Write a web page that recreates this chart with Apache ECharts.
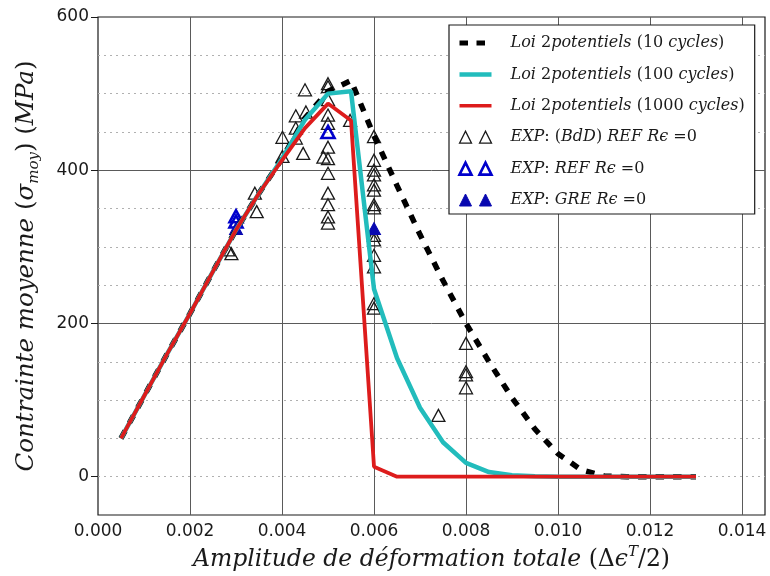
<!DOCTYPE html>
<html><head><meta charset="utf-8">
<script src="https://cdn.jsdelivr.net/npm/echarts@6/dist/echarts.min.js"></script>
<style>html,body{margin:0;padding:0;background:#fff}#c{width:770px;height:576px}</style>
</head><body><div id="c"></div>
<script>
// ---- data ----
const strain = [0.0005,0.001,0.0015,0.002,0.0025,0.003,0.0035,0.004,0.0045,0.005,0.0055,0.006,0.0065,0.007,0.0075,0.008,0.0085,0.009,0.0095,0.010,0.0105,0.011,0.0115,0.012,0.0125,0.013];
const sigma10   = [50,105,160,213,268,322,370,415,468,503,517,445,380,316,256,200,150,103,62,30,9,1,0,0,0,0];
const sigma100  = [50,105,160,213,268,322,370,415,466,500,503,245,155,90,45,18,6,2,0.5,0,0,0,0,0,0,0];
const sigma1000 = [50,105,160,213,268,322,370,413,455,487,465,13,0,0,0,0,0,0,0,0,0,0,0,0,0,0];
const expBdD = [[0.00283,296],[0.0029,291],[0.00341,370],[0.00345,346],[0.00401,443],[0.00401,418],
  [0.0043,471],[0.0043,455],[0.0043,442],[0.00446,422],[0.00452,476],[0.0045,505],[0.0049,417],
  [0.005,513],[0.005,509],[0.005,492],[0.005,472],[0.005,461],[0.005,430],[0.005,415],[0.005,396],
  [0.005,370],[0.005,355],[0.005,339],[0.005,331],[0.00548,465],
  [0.006,444],[0.006,413],[0.006,400],[0.006,394],[0.006,381],[0.006,374],[0.006,355],[0.006,351],
  [0.006,315],[0.006,309],[0.006,289],[0.006,274],[0.006,226],[0.006,220],
  [0.0074,80],[0.008,174],[0.008,137],[0.008,133],[0.008,116]];
const expREF = [[0.003,340],[0.003,333],[0.005,450]];
const expGRE = [[0.003,324],[0.006,324]];
const yTicks = [0,200,400,600];
const names = ['Loi 2potentiels (10 cycles)','Loi 2potentiels (100 cycles)','Loi 2potentiels (1000 cycles)',
  'EXP: (BdD) REF R\u03f5 =0','EXP: REF R\u03f5 =0','EXP: GRE R\u03f5 =0'];

const pair = (xs, ys) => xs.map((x, i) => [x, ys[i]]);
const SERIF = '"DejaVu Serif", "Liberation Serif", serif';
const SANS = '"DejaVu Sans", sans-serif';
const INK = '#1a1a1a';
const toRich = s => s.replace(/[A-Za-z\u03f5]+/g, m => '{i|' + m + '}');
const triPath = 'path://M0,12L6,0L12,12Z M20,12L26,0L32,12Z';
const mkRich = fs => ({
  i: {fontFamily: SERIF, fontStyle: 'italic', fontSize: fs, lineHeight: 30, color: INK},
  n: {fontFamily: SERIF, fontSize: fs, lineHeight: 30, color: INK},
  sup: {fontFamily: SERIF, fontStyle: 'italic', fontSize: 15, lineHeight: 16, verticalAlign: 'top', color: INK},
  sub: {fontFamily: SERIF, fontStyle: 'italic', fontSize: 15, lineHeight: 16, verticalAlign: 'bottom', color: INK}
});

const chart = echarts.init(document.getElementById('c'), null, {renderer: 'canvas'});
chart.setOption({
  animation: false,
  backgroundColor: '#fff',
  grid: {show: true, left: 98, top: 17, right: 5, bottom: 61, outerBoundsMode: 'none', containLabel: false,
    borderColor: INK, borderWidth: 1.2, backgroundColor: 'transparent'},
  xAxis: {
    type: 'value', min: 0, max: 0.0145, interval: 0.002,
    axisLine: {show: false}, axisTick: {show: false},
    splitLine: {show: true, showMinLine: false, showMaxLine: false, lineStyle: {color: '#5a5a5a', width: 1}},
    axisLabel: {fontFamily: SANS, fontSize: 17, color: INK, margin: 8, showMaxLabel: false,
      formatter: v => (Math.abs(v / 0.002 - Math.round(v / 0.002)) < 1e-6 ? v.toFixed(3) : '')},
    name: '{i|Amplitude de d\u00e9formation totale }{n|(\u0394}{i|\u03f5}{sup|T}{n|/2)}',
    nameLocation: 'middle', nameGap: 28,
    nameTextStyle: {fontFamily: SERIF, fontSize: 23.5, color: INK, rich: mkRich(23.5)}
  },
  yAxis: [{
    type: 'value', position: 'left', min: -50, max: 600, interval: 50,
    axisLine: {show: false}, axisTick: {show: false}, axisLabel: {show: false},
    splitLine: {show: true, showMinLine: false, showMaxLine: false, lineStyle: {color: '#b0b0b0', width: 1.2, type: [2, 4]}}
  }, {
    type: 'value', position: 'left', min: -50, max: 600, splitNumber: 3,
    axisLine: {show: false},
    axisTick: {show: true, inside: false, length: 7, customValues: yTicks, lineStyle: {color: INK, width: 1}},
    splitLine: {show: true, showMinLine: false, showMaxLine: false, lineStyle: {color: '#5a5a5a', width: 1}},
    axisLabel: {fontFamily: SANS, fontSize: 17, color: INK, margin: 9, customValues: yTicks,
      formatter: v => (v < 0 ? '' : String(v))},
    name: '{i|Contrainte moyenne }{n|(}{i|\u03c3}{sub|moy}{n|) (}{i|MPa}{n|)}',
    nameLocation: 'middle', nameGap: 56, nameRotate: 90,
    nameTextStyle: {fontFamily: SERIF, fontSize: 24.5, color: INK, rich: mkRich(24.5)}
  }],
  legend: {
    orient: 'vertical', left: 449, top: 25, padding: [10, 10, 6, 8], itemGap: 15.4,
    itemWidth: 32, itemHeight: 14, backgroundColor: '#fff', borderColor: INK, borderWidth: 1.2, borderRadius: 0,
    selectedMode: false,
    textStyle: {fontFamily: SERIF, fontSize: 16, color: INK,
      rich: {g: {width: 14}, i: {fontFamily: SERIF, fontStyle: 'italic', fontSize: 16, color: INK}}},
    formatter: name => '{g| }' + toRich(name),
    data: [
      {name: names[0], itemStyle: {opacity: 0}, lineStyle: {width: 5, type: [8.5, 8.5], dashOffset: 0, cap: 'butt', color: '#000'}},
      {name: names[1], itemStyle: {opacity: 0}, lineStyle: {width: 4.5, color: '#22bcbc'}},
      {name: names[2], itemStyle: {opacity: 0}, lineStyle: {width: 3.5, color: '#dd1c1c'}},
      {name: names[3], icon: triPath, itemStyle: {color: 'rgba(0,0,0,0)', borderColor: INK, borderWidth: 1.3}},
      {name: names[4], icon: triPath, itemStyle: {color: 'rgba(0,0,0,0)', borderColor: '#0000cc', borderWidth: 2.6}},
      {name: names[5], icon: triPath, itemStyle: {color: '#0808b0', borderColor: '#0808b0', borderWidth: 1}}
    ]
  },
  series: [
    {name: names[0], type: 'line', yAxisIndex: 1, data: pair(strain, sigma10), symbol: 'none', showSymbol: false,
      lineStyle: {color: '#000', width: 5.5, type: [8.5, 9], cap: 'butt'}, itemStyle: {color: '#000'}},
    {name: names[1], type: 'line', yAxisIndex: 1, data: pair(strain, sigma100), symbol: 'none', showSymbol: false,
      lineStyle: {color: '#22bcbc', width: 4.5}, itemStyle: {color: '#22bcbc'}},
    {name: names[2], type: 'line', yAxisIndex: 1, data: pair(strain, sigma1000), symbol: 'none', showSymbol: false,
      lineStyle: {color: '#dd1c1c', width: 3.8}, itemStyle: {color: '#dd1c1c'}},
    {name: names[3], type: 'scatter', yAxisIndex: 1, data: expBdD, symbol: 'triangle', symbolSize: [13, 12],
      itemStyle: {color: 'rgba(0,0,0,0)', borderColor: INK, borderWidth: 1.3, opacity: 1}},
    {name: names[4], type: 'scatter', yAxisIndex: 1, data: expREF, symbol: 'triangle', symbolSize: [13, 12],
      itemStyle: {color: 'rgba(0,0,0,0)', borderColor: '#0000cc', borderWidth: 2.6, opacity: 1}},
    {name: names[5], type: 'scatter', yAxisIndex: 1, data: expGRE, symbol: 'triangle', symbolSize: [13, 12],
      itemStyle: {color: '#0808b0', borderColor: '#0808b0', borderWidth: 1, opacity: 1}}
  ]
});
</script>
</body></html>
